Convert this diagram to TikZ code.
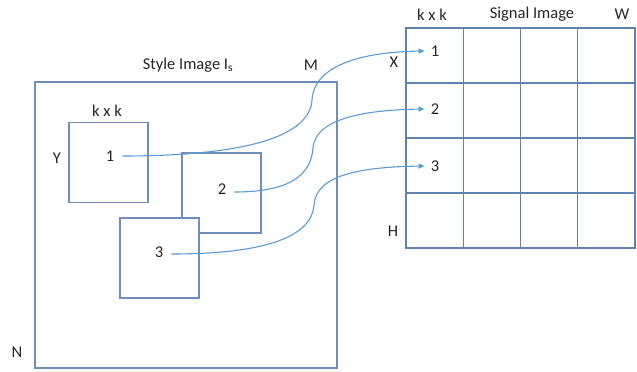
\documentclass[tikz,border=0pt]{standalone}
\usepackage{fontspec}
\setmainfont{Carlito}
\usetikzlibrary{arrows.meta}
\definecolor{boxc}{HTML}{6F8FBA}
\definecolor{gridc}{HTML}{5F82B0}
\definecolor{arrc}{HTML}{5B9BD5}
\definecolor{txtc}{HTML}{262626}
\tikzset{
  sbox/.style={draw=boxc, line width=1.1pt, fill=white, inner sep=0pt, minimum width=79pt, minimum height=80pt},
  cellbox/.style={draw=gridc, line width=1.3pt, inner sep=0pt, minimum width=57.25pt, minimum height=55pt},
  lbl/.style={text=txtc, font=\fontsize{16.5}{18}\selectfont, inner sep=1pt},
  conn/.style={draw=arrc, line width=1.1pt},
  arr/.style={conn, -{Triangle[length=6pt,width=5pt]}}
}
\begin{document}
\begin{tikzpicture}[x=1pt,y=-1pt]
\useasboundingbox (0,0) rectangle (637,372);
% style image
\node[sbox, minimum width=302pt, minimum height=286pt] (big) at (186,225) {};
\node[sbox] (b1) at (108.5,162.5) {};
\node[sbox] (b2) at (221.5,193) {};
\node[sbox] (b3) at (159.5,258) {};
\node[lbl] (title) at (188,65) {Style Image I\textsubscript{s}};
\node[lbl] (M) at (311,65) {M};
\node[lbl] (N) at (17,352) {N};
\node[lbl] (Y) at (57,158) {Y};
\node[lbl] (kk1) at (107,111) {k x k};
\node[lbl] (l1) at (110,156) {1};
\node[lbl] (l2) at (222,189) {2};
\node[lbl] (l3) at (159,252) {3};
% signal image grid
\foreach \r in {0,1,2,3}{
  \foreach \c in {0,1,2,3}{
    \node[cellbox] (c\r\c) at ({406+57.25*(\c+0.5)},{28+55*(\r+0.5)}) {};
  }
}
\node[lbl] (kk2) at (432,15) {k x k};
\node[lbl] (sig) at (532,14) {Signal Image};
\node[lbl] (W) at (622,14) {W};
\node[lbl] (X) at (394,62) {X};
\node[lbl] (H) at (393,231) {H};
\node[lbl, inner sep=6pt] (g1) at (435,51) {1};
\node[lbl, inner sep=6pt] (g2) at (435,109) {2};
\node[lbl, inner sep=6pt] (g3) at (435,166) {3};
% connectors
\draw[arr] ([xshift=7pt]l1.east) .. controls (250,156) and (310,135) .. (312,100)
  .. controls (314,66) and (360,52) .. (g1.west);
\draw[arr] ([xshift=7pt]l2.east |- 0,192) .. controls (290,192) and (311,175) .. (313,148)
  .. controls (315,120) and (360,110) .. (g2.west);
\draw[arr] ([xshift=7pt]l3.east |- 0,254) .. controls (270,254) and (312,235) .. (314,205)
  .. controls (316,175) and (360,167) .. (g3.west);
\end{tikzpicture}
\end{document}
